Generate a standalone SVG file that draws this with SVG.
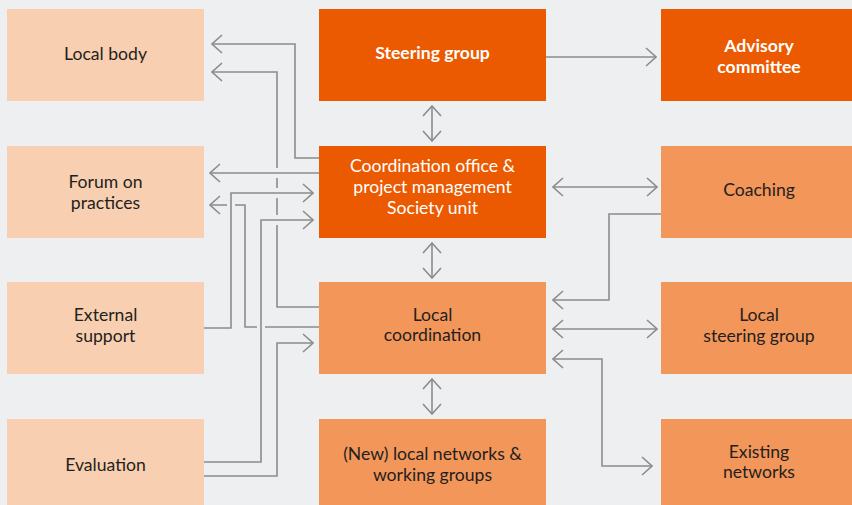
<svg xmlns="http://www.w3.org/2000/svg" width="852" height="505" viewBox="0 0 852 505">
<defs>
<style>
.bg{fill:#eeeff1}
.light{fill:#f8cfb0}
.mid{fill:#f3965a}
.dark{fill:#eb5a00}
text{font-family:Lato,"Open Sans","Liberation Sans",sans-serif;font-size:17.6px;text-anchor:middle}
.tk{fill:#231f20}
.tw{fill:#ffffff}
.b{font-weight:bold}
.c{fill:none;stroke:#8c8c8c;stroke-width:1.6}
</style>
<marker id="ah" viewBox="-11 -10 12 20" refX="0" refY="0" markerWidth="12" markerHeight="20" markerUnits="userSpaceOnUse" orient="auto-start-reverse">
<path d="M-10,-9 L0,0 L-10,9" fill="none" stroke="#8c8c8c" stroke-width="1.6"/>
</marker>
</defs>
<rect class="bg" x="0" y="0" width="852" height="505"/>

<g id="local-body"><rect class="light" x="7" y="9" width="197" height="92"/><text class="tk" x="105.5" y="60">Local body</text></g>
<g id="forum"><rect class="light" x="7" y="146" width="197" height="92"/><text class="tk" x="105.5" y="188">Forum on</text><text class="tk" x="105.5" y="209">practices</text></g>
<g id="external-support"><rect class="light" x="7" y="282" width="197" height="92"/><text class="tk" x="105.5" y="320.5">External</text><text class="tk" x="105.5" y="341.5">support</text></g>
<g id="evaluation"><rect class="light" x="7" y="419" width="197" height="86"/><text class="tk" x="105.5" y="470.5">Evaluation</text></g>

<g id="steering-group"><rect class="dark" x="319" y="9" width="227" height="92"/><text class="tw b" x="432.5" y="58.5">Steering group</text></g>
<g id="coordination-office"><rect class="dark" x="319" y="146" width="227" height="92"/><text class="tw" x="432.5" y="172">Coordination office &amp;</text><text class="tw" x="432.5" y="193">project management</text><text class="tw" x="432.5" y="214">Society unit</text></g>
<g id="local-coordination"><rect class="mid" x="319" y="282" width="227" height="92"/><text class="tk" x="432.5" y="320.5">Local</text><text class="tk" x="432.5" y="341">coordination</text></g>
<g id="new-local-networks"><rect class="mid" x="319" y="419" width="227" height="86"/><text class="tk" x="432.5" y="460">(New) local networks &amp;</text><text class="tk" x="432.5" y="481">working groups</text></g>

<g id="advisory-committee"><rect class="dark" x="661" y="9" width="197" height="92"/><text class="tw b" x="759" y="52">Advisory</text><text class="tw b" x="759" y="73">committee</text></g>
<g id="coaching"><rect class="mid" x="661" y="146" width="197" height="92"/><text class="tk" x="759" y="195.5">Coaching</text></g>
<g id="local-steering-group"><rect class="mid" x="661" y="282" width="197" height="92"/><text class="tk" x="759" y="320.5">Local</text><text class="tk" x="759" y="341.5">steering group</text></g>
<g id="existing-networks"><rect class="mid" x="661" y="419" width="197" height="86"/><text class="tk" x="759" y="458">Existing</text><text class="tk" x="759" y="478">networks</text></g>

<g id="connectors">
<path class="c" d="M319,158 H295 V44 H212" marker-end="url(#ah)"/>
<path class="c" d="M319,307 H277 V225 M277,215 V198 M277,188 V178 M277,168 V72 H212" marker-end="url(#ah)"/>
<path class="c" d="M319,173 H210" marker-end="url(#ah)"/>
<path class="c" d="M204,328 H231 V193 H313" marker-end="url(#ah)"/>
<path class="c" d="M319,327 H265 M257,327 H245 V205 H235 M227,205 H210" marker-end="url(#ah)"/>
<path class="c" d="M204,462 H261 V220 H313" marker-end="url(#ah)"/>
<path class="c" d="M204,476 H277 V343 H313" marker-end="url(#ah)"/>
<path class="c" d="M546,57 H656" marker-end="url(#ah)"/>
<path class="c" d="M432,106 V141" marker-start="url(#ah)" marker-end="url(#ah)"/>
<path class="c" d="M432,243 V278" marker-start="url(#ah)" marker-end="url(#ah)"/>
<path class="c" d="M432,379 V414" marker-start="url(#ah)" marker-end="url(#ah)"/>
<path class="c" d="M553,187 H657" marker-start="url(#ah)" marker-end="url(#ah)"/>
<path class="c" d="M661,214 H609 V300 H553" marker-end="url(#ah)"/>
<path class="c" d="M553,329 H657" marker-start="url(#ah)" marker-end="url(#ah)"/>
<path class="c" d="M553,359 H602 V466 H652" marker-start="url(#ah)" marker-end="url(#ah)"/>
</g>
</svg>
